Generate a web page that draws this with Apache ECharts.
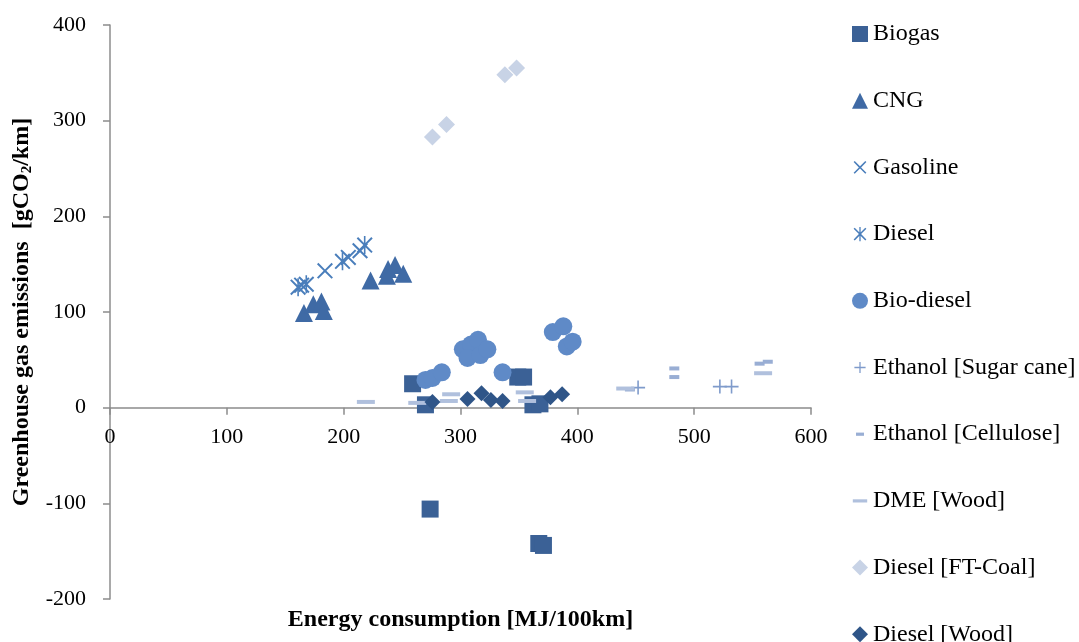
<!DOCTYPE html>
<html>
<head>
<meta charset="utf-8">
<script src="https://cdn.jsdelivr.net/npm/echarts@6/dist/echarts.min.js"></script>
<style>
  html, body { margin: 0; padding: 0; background: #fff; }
  #chart { width: 1079px; height: 642px; }
</style>
</head>
<body>
<div id="chart"></div>
<script>
// Energy consumption [MJ/100km] vs. greenhouse gas emissions [gCO2/km]
const seriesNames = ['Biogas', 'CNG', 'Gasoline', 'Diesel', 'Bio-diesel',
  'Ethanol [Sugar cane]', 'Ethanol [Cellulose]', 'DME [Wood]', 'Diesel [FT-Coal]', 'Diesel [Wood]'];

const biogas = [[259, 25], [270, 3], [349, 32], [354, 32], [362, 3], [368, 4], [274, -106], [367, -142], [371, -144]];
const cng = [[166, 99], [174, 108], [181, 111], [183, 101], [223, 133], [237, 138], [238, 145], [244, 149], [251, 140]];
const gasoline = [[164, 128], [184, 143], [204, 157], [214, 164]];
const diesel = [[161, 126], [168, 129], [199, 153], [218, 170]];
const bioDiesel = [[270, 29], [276, 31], [284, 37], [302, 61], [309, 66], [306, 52], [315, 71], [317, 55], [323, 61],
  [336, 37], [379, 79], [388, 85], [391, 64], [396, 69]];
const ethanolSugarCane = [[452, 21], [522, 22], [532, 22]];
const ethanolCellulose = [[445, 19], [483, 41], [483, 32], [556, 46], [563, 48]];
const dmeWood = [[219, 6], [263, 5], [292, 14], [290, 7], [355, 16], [357, 7], [441, 20], [559, 36]];
const dieselFtCoal = [[276, 283], [288, 296], [338, 348], [348, 355]];
const dieselWood = [[276, 6], [306, 9], [318, 15], [326, 8], [336, 7], [377, 11], [387, 14]];

const xTicks = [0, 100, 200, 300, 400, 500, 600];
const yTicks = [-200, -100, 0, 100, 200, 300, 400];

// Plot box and the offset that lifts the x axis onto the y = 0 line
const plot = { left: 110, right: 268, top: 25, bottom: 43, height: 574 };
const yMin = yTicks[0], yMax = yTicks[yTicks.length - 1];
const zeroLift = plot.height * (0 - yMin) / (yMax - yMin);

// Marker shapes drawn in a 20x20 box (leading moves fix the box size)
const BOX = 'M0,0M20,20';
const X_PATH = 'M2,3.4L3.4,2L10,8.6L16.6,2L18,3.4L11.4,10L18,16.6L16.6,18L10,11.4L3.4,18L2,16.6L8.6,10Z';
const SYM = {
  cross: 'path://' + BOX + X_PATH,
  star: 'path://' + BOX + X_PATH + 'M9.2,1H10.8V19H9.2Z',
  plus: 'path://' + BOX + 'M9.2,3H10.8V9.2H17V10.8H10.8V17H9.2V10.8H3V9.2H9.2Z',
  shortDash: 'path://' + BOX + 'M5,8H15V12H5Z',
  longDash: 'path://' + BOX + 'M1,8H19V12H1Z'
};

const serif = 'Liberation Serif';
const axisGrey = '#8c8c8c';

function scatter(name, data, symbol, size, color) {
  return {
    name: name,
    type: 'scatter',
    data: data,
    symbol: symbol,
    symbolSize: size,
    itemStyle: { color: color, opacity: 1 },
    emphasis: { disabled: true }
  };
}

const option = {
  animation: false,
  backgroundColor: '#ffffff',
  grid: { left: plot.left, right: plot.right, top: plot.top, bottom: plot.bottom, containLabel: false, outerBoundsMode: 'none' },
  legend: {
    orient: 'vertical',
    left: 847,
    top: 17,
    height: 660,
    itemWidth: 16,
    itemHeight: 16,
    itemGap: 42.7,
    selectedMode: false,
    textStyle: { fontFamily: serif, fontSize: 24, color: '#000' },
    data: seriesNames
  },
  xAxis: {
    type: 'value',
    min: xTicks[0],
    max: xTicks[xTicks.length - 1],
    interval: 100,
    position: 'bottom',
    offset: -zeroLift,
    splitLine: { show: false },
    axisLine: { onZero: false, lineStyle: { color: axisGrey, width: 1.5 } },
    axisTick: { show: true, length: 7, lineStyle: { color: axisGrey, width: 1.5 } },
    axisLabel: { fontFamily: serif, fontSize: 22, color: '#000', margin: 19 },
    name: 'Energy consumption [MJ/100km]',
    nameLocation: 'middle',
    nameGap: 200,
    nameTextStyle: { fontFamily: serif, fontSize: 24, fontWeight: 'bold', color: '#000' }
  },
  yAxis: {
    type: 'value',
    min: yMin,
    max: yMax,
    interval: 100,
    splitLine: { show: false },
    axisLine: { show: true, onZero: false, lineStyle: { color: axisGrey, width: 1.5 } },
    axisTick: { show: true, length: 7, lineStyle: { color: axisGrey, width: 1.5 } },
    axisLabel: { fontFamily: serif, fontSize: 22, color: '#000', margin: 24 },
    name: 'Greenhouse gas emissions  [gCO{sub|2}/km]',
    nameLocation: 'middle',
    nameGap: 71,
    nameTextStyle: {
      fontFamily: serif, fontSize: 24, fontWeight: 'bold', color: '#000',
      rich: { sub: { fontFamily: serif, fontSize: 15, fontWeight: 'bold', color: '#000', verticalAlign: 'bottom', padding: [11, 0, 0, 0] } }
    }
  },
  series: [
    scatter('Biogas', biogas, 'rect', 17, '#3b6196'),
    scatter('CNG', cng, 'triangle', 18, '#3f6aa5'),
    scatter('Gasoline', gasoline, SYM.cross, 20, '#4a7ebb'),
    scatter('Diesel', diesel, SYM.star, 20, '#4a7ebb'),
    scatter('Bio-diesel', bioDiesel, 'circle', 18, '#5f8ac7'),
    scatter('Ethanol [Sugar cane]', ethanolSugarCane, SYM.plus, 20, '#7f9bcb'),
    scatter('Ethanol [Cellulose]', ethanolCellulose, SYM.shortDash, 20, '#99aed4'),
    scatter('DME [Wood]', dmeWood, SYM.longDash, 20, '#b0c0dd'),
    scatter('Diesel [FT-Coal]', dieselFtCoal, 'diamond', 17, '#c8d3e6'),
    scatter('Diesel [Wood]', dieselWood, 'diamond', 16, '#2f5588')
  ]
};

const chart = echarts.init(document.getElementById('chart'), null, { renderer: 'canvas' });
chart.setOption(option);
</script>
</body>
</html>
